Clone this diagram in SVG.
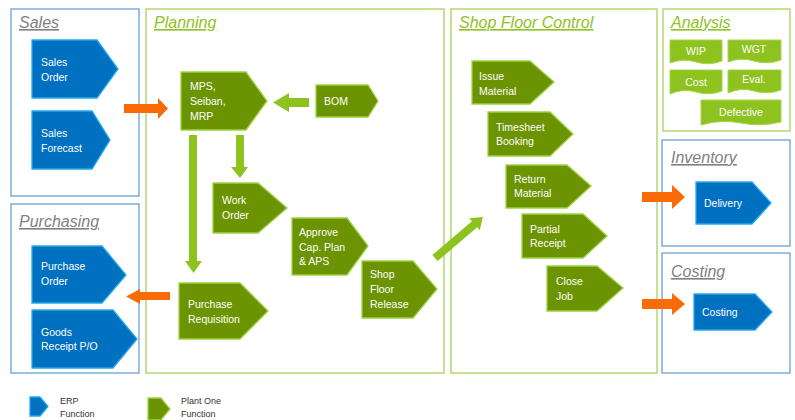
<svg xmlns="http://www.w3.org/2000/svg" width="795" height="420" viewBox="0 0 795 420">
<style>
.box-b{fill:#fff;stroke:#6A9FD8;stroke-width:1.3}
.box-g{fill:#fff;stroke:#A8D25A;stroke-width:1.3}
.tg{font-family:"Liberation Sans",Arial,sans-serif;font-style:italic;font-size:16px;text-decoration:underline;fill:#7F7F7F}
.tgg{font-family:"Liberation Sans",Arial,sans-serif;font-style:italic;font-size:16px;text-decoration:underline;fill:#8DC21F}
.erp{fill:#0070C0;stroke:#22A9EE;stroke-width:1.3}
.po{fill:#6B9302;stroke:#9DD340;stroke-width:1.3}
.tile{fill:#8DC21F;stroke:#A6D64A;stroke-width:1}
.lbl{font-family:"Liberation Sans",Arial,sans-serif;font-size:10.5px;fill:#fff}
.ctr{text-anchor:middle}
.leg{font-family:"Liberation Sans",Arial,sans-serif;font-size:9px;fill:#333}
.oa{fill:#F96B07}
.ga{fill:#8DC21F}
</style>

<g id="sales">
<rect class="box-b" x="11" y="9" width="128" height="187"/>
<text class="tg" x="19" y="28">Sales</text>
</g>
<g id="purchasing">
<rect class="box-b" x="11" y="204" width="128" height="169"/>
<text class="tg" x="19" y="227">Purchasing</text>
</g>
<g id="planning">
<rect class="box-g" x="146" y="9" width="298" height="364"/>
<text class="tgg" x="154" y="28">Planning</text>
</g>
<g id="shop-floor-control">
<rect class="box-g" x="451" y="9" width="206" height="364"/>
<text class="tgg" x="459" y="28">Shop Floor Control</text>
</g>
<g id="analysis">
<rect class="box-g" x="663" y="9" width="127" height="122"/>
<text class="tgg" x="671" y="28">Analysis</text>
</g>
<g id="inventory">
<rect class="box-b" x="662" y="140" width="128" height="106"/>
<text class="tg" x="671" y="163">Inventory</text>
</g>
<g id="costing-box">
<rect class="box-b" x="662" y="253" width="128" height="120"/>
<text class="tg" x="671" y="277">Costing</text>
</g>

<g id="connectors">
<polygon class="oa" points="124,104 158,104 158,98 168,108.5 158,119 158,113 124,113"/>
<polygon class="oa" points="170,292 140,292 140,289 126,296.5 140,304 140,300 170,300"/>
<polygon class="ga" points="309,98 289,98 289,93 273,102.5 289,112 289,107 309,107"/>
<polygon class="ga" points="189,135 197,135 197,261 202,261 193.5,273 185,261 189,261"/>
<polygon class="ga" points="236,135 244,135 244,167 248,167 240,178 231,167 236,167"/>
<polygon class="ga" transform="translate(435,258) rotate(-40.5)" points="0,-4 52,-4 52,-8 63,0 52,8 52,4 0,4"/>
<polygon class="oa" points="642,192 672,192 672,185 685,197 672,209 672,202 642,202"/>
<polygon class="oa" points="642,299 672,299 672,293 685,304 672,315 672,309 642,309"/>
</g>

<g id="sales-order">
<polygon class="erp" points="32,40 97,40 118,69 97,98 32,98"/>
<text class="lbl" x="41" y="66">Sales</text><text class="lbl" x="41" y="81">Order</text>
</g>
<g id="sales-forecast">
<polygon class="erp" points="32,111 92,111 110,140 92,169 32,169"/>
<text class="lbl" x="41" y="137">Sales</text><text class="lbl" x="41" y="152">Forecast</text>
</g>
<g id="purchase-order">
<polygon class="erp" points="32,246 102,246 126,275 102,303 32,303"/>
<text class="lbl" x="41" y="270">Purchase</text><text class="lbl" x="41" y="285">Order</text>
</g>
<g id="goods-receipt">
<polygon class="erp" points="32,310 113,310 137,339 113,368 32,368"/>
<text class="lbl" x="41" y="336">Goods</text><text class="lbl" x="41" y="350">Receipt P/O</text>
</g>

<g id="mps">
<polygon class="po" points="181,72 246,72 267,101 246,130 181,130"/>
<text class="lbl" x="190" y="90">MPS,</text><text class="lbl" x="190" y="105">Seiban,</text><text class="lbl" x="190" y="120">MRP</text>
</g>
<g id="bom">
<polygon class="po" points="316,85 368,85 378,101 368,117 316,117"/>
<text class="lbl" x="324" y="105">BOM</text>
</g>
<g id="work-order">
<polygon class="po" points="213,183 258,183 287,208 258,233 213,233"/>
<text class="lbl" x="222" y="204">Work</text><text class="lbl" x="222" y="219">Order</text>
</g>
<g id="approve">
<polygon class="po" points="292,218 347,218 368,246 347,275 292,275"/>
<text class="lbl" x="299" y="236">Approve</text><text class="lbl" x="299" y="251">Cap. Plan</text><text class="lbl" x="299" y="265">&amp; APS</text>
</g>
<g id="shop-floor-release">
<polygon class="po" points="362,261 413,261 437,289 413,318 362,318"/>
<text class="lbl" x="370" y="278">Shop</text><text class="lbl" x="370" y="293">Floor</text><text class="lbl" x="370" y="308">Release</text>
</g>
<g id="purchase-requisition">
<polygon class="po" points="179,283 240,283 268,311 240,339 179,339"/>
<text class="lbl" x="188" y="308">Purchase</text><text class="lbl" x="188" y="323">Requisition</text>
</g>

<g id="issue-material">
<polygon class="po" points="472,61 530,61 554,82 530,104 472,104"/>
<text class="lbl" x="479" y="80">Issue</text><text class="lbl" x="479" y="95">Material</text>
</g>
<g id="timesheet-booking">
<polygon class="po" points="488,112 550,112 573,134 550,156 488,156"/>
<text class="lbl" x="496" y="131">Timesheet</text><text class="lbl" x="496" y="145">Booking</text>
</g>
<g id="return-material">
<polygon class="po" points="506,165 567,165 591,186 567,208 506,208"/>
<text class="lbl" x="514" y="183">Return</text><text class="lbl" x="514" y="197">Material</text>
</g>
<g id="partial-receipt">
<polygon class="po" points="522,214 583,214 607,236 583,258 522,258"/>
<text class="lbl" x="530" y="233">Partial</text><text class="lbl" x="530" y="247">Receipt</text>
</g>
<g id="close-job">
<polygon class="po" points="547,266 597,266 623,288 597,311 547,311"/>
<text class="lbl" x="556" y="285">Close</text><text class="lbl" x="556" y="300">Job</text>
</g>

<g id="wip">
<path class="tile" d="M670,40 H722 V61 Q709,66 696,62 Q683,58 670,63 Z"/>
<text class="lbl ctr" x="696" y="55">WIP</text>
</g>
<g id="wgt">
<path class="tile" d="M728,40 H781 V60 Q768,65 754,61 Q741,57 728,62 Z"/>
<text class="lbl ctr" x="754" y="53">WGT</text>
</g>
<g id="cost">
<path class="tile" d="M670,70 H722 V91 Q709,96 696,92 Q683,88 670,94 Z"/>
<text class="lbl ctr" x="696" y="86">Cost</text>
</g>
<g id="eval">
<path class="tile" d="M728,70 H781 V90 Q768,95 754,91 Q741,87 728,93 Z"/>
<text class="lbl ctr" x="754" y="83">Eval.</text>
</g>
<g id="defective">
<path class="tile" d="M701,100 H781 V122 Q761,127 741,123 Q721,119 701,125 Z"/>
<text class="lbl ctr" x="741" y="116">Defective</text>
</g>

<g id="delivery">
<polygon class="erp" points="696,182 752,182 771,203 752,224 696,224"/>
<text class="lbl" x="704" y="207">Delivery</text>
</g>
<g id="costing">
<polygon class="erp" points="694,294 755,294 772,312 755,330 694,330"/>
<text class="lbl" x="702" y="316">Costing</text>
</g>

<g id="legend-erp">
<polygon class="erp" points="30,397 40,397 48,406.5 40,416 30,416"/>
<text class="leg" x="60" y="404">ERP</text><text class="leg" x="60" y="417">Function</text>
</g>
<g id="legend-plant">
<polygon class="po" points="148,398 161,398 170,409 161,420 148,420"/>
<text class="leg" x="181" y="404">Plant One</text><text class="leg" x="181" y="417">Function</text>
</g>
</svg>
